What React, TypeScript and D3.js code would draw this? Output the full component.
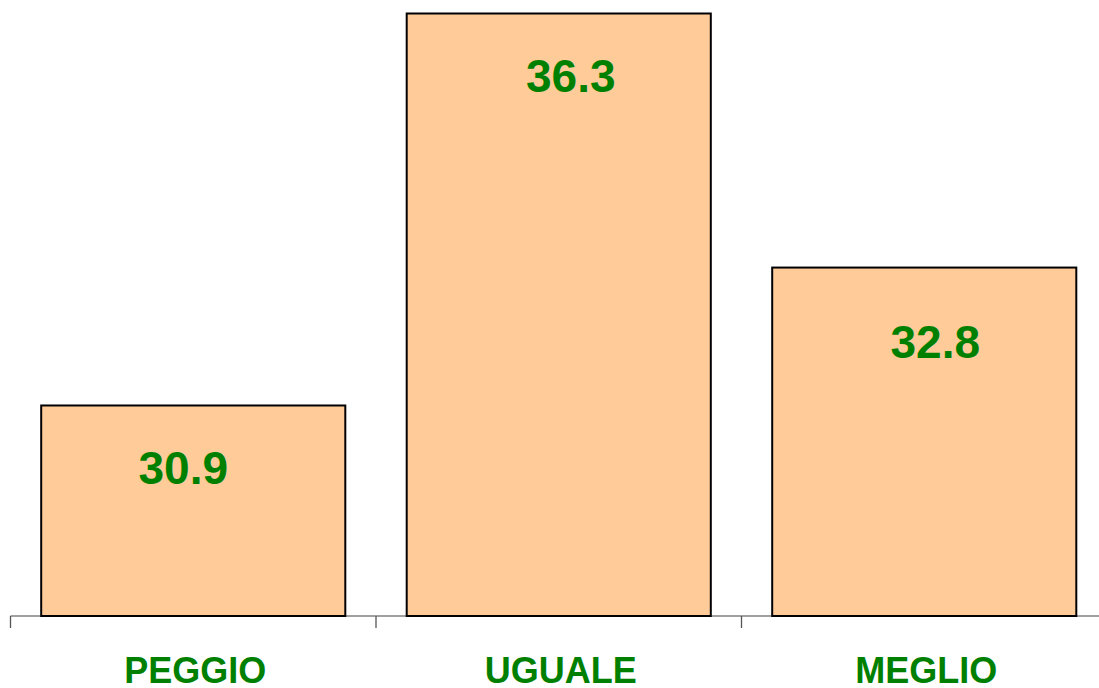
import * as d3 from 'd3';

const categories = ['PEGGIO', 'UGUALE', 'MEGLIO'];
const values = [30.9, 36.3, 32.8];
const valueLabels = ['30.9', '36.3', '32.8'];

// small hand offsets for the value labels (the source places them a bit off-centre)
const labelDx = [-10, 12, 11];
const labelDy = [79, 78, 90];

const width = 1099;
const height = 688;
const baseline = 616;

const App = () => {
  const x = d3
    .scaleBand()
    .domain(categories)
    .range([10.5, 1107])
    .paddingInner(0.168)
    .paddingOuter(0.084);

  const y = d3.scaleLinear().domain([28, 36.3]).range([baseline, 13.5]);

  const step = x.step();
  const tickXs = categories.map((c) => (x(c) as number) - (step * 0.168) / 2);

  return (
    <svg
      width={width}
      height={height}
      style={{ position: 'absolute', left: 0, top: 0, background: '#fff' }}
    >
      {/* axis line */}
      <line x1={10.5} x2={width} y1={baseline} y2={baseline} stroke="#808080" strokeWidth={1.3} />
      {tickXs.map((tx, i) => (
        <line key={i} x1={tx} x2={tx} y1={baseline} y2={baseline + 12} stroke="#555" strokeWidth={1.3} />
      ))}

      {categories.map((c, i) => (
        <rect
          key={c}
          x={x(c)}
          y={y(values[i])}
          width={x.bandwidth()}
          height={baseline - y(values[i])}
          fill="#FFCC99"
          stroke="#000"
          strokeWidth={2}
        />
      ))}

      {categories.map((c, i) => (
        <text
          key={'v' + c}
          x={(x(c) as number) + x.bandwidth() / 2 + labelDx[i]}
          y={y(values[i]) + labelDy[i]}
          textAnchor="middle"
          fontFamily="Liberation Sans, Arial, sans-serif"
          fontWeight="bold"
          fontSize={46}
          fill="#008000"
        >
          {valueLabels[i]}
        </text>
      ))}

      {categories.map((c) => (
        <text
          key={'c' + c}
          x={(x(c) as number) + x.bandwidth() / 2 + 2}
          y={683}
          textAnchor="middle"
          fontFamily="Liberation Sans, Arial, sans-serif"
          fontWeight="bold"
          fontSize={36}
          fill="#008000"
        >
          {c}
        </text>
      ))}
    </svg>
  );
};

export default App;
